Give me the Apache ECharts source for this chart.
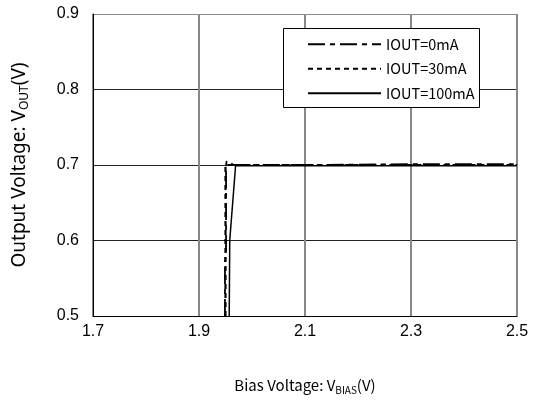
<!DOCTYPE html>
<html><head><meta charset="utf-8">
<script src="https://cdn.jsdelivr.net/npm/echarts@6/dist/echarts.min.js"></script>
<style>html,body{margin:0;padding:0;background:#fff}#c{width:533px;height:403px}</style>
</head><body><div id="c"></div>
<script>
const seriesNames = ['IOUT=0mA', 'IOUT=30mA', 'IOUT=100mA'];
const iout0 = [[1.949,0.5],[1.949,0.57],[1.951,0.587],[1.951,0.698],[1.952,0.705],[1.966,0.700],[2.1,0.700],[2.3,0.701],[2.5,0.701]];
const iout30 = [[1.950,0.5],[1.950,0.700],[1.96,0.700],[2.3,0.700],[2.5,0.700]];
const iout100 = [[1.957,0.5],[1.958,0.6],[1.969,0.699],[2.3,0.699],[2.5,0.699]];
const xTicks = [1.7, 1.9, 2.1, 2.3, 2.5];
const yTicks = [0.5, 0.6, 0.7, 0.8, 0.9];

const chart = echarts.init(document.getElementById('c'));
const mk = (name, data, type, width) => ({
  name, type: 'line', data, symbol: 'none', animation: false, z: 5,
  itemStyle: { color: '#000' },
  lineStyle: { color: '#000', width, type }
});
chart.setOption({
  backgroundColor: '#fff',
  animation: false,
  grid: { left: 93, right: 16, top: 14, bottom: 87 },
  graphic: [{ type: 'rect', left: 283, top: 28, z: 10,
    shape: { width: 196, height: 79 },
    style: { fill: '#fff', stroke: '#000', lineWidth: 1 } }],
  legend: {
    data: seriesNames, orient: 'vertical', left: 284, top: 28, z: 11,
    padding: [9, 10, 9, 23], itemWidth: 73, itemHeight: 14, itemGap: 10,
    itemStyle: { opacity: 0 },
    textStyle: { fontFamily: 'Noto Sans CJK JP', fontSize: 14.5, color: '#000', padding: [0,0,0,0] }
  },
  xAxis: {
    type: 'value', min: xTicks[0], max: xTicks[xTicks.length-1], interval: 0.2,
    axisLine: { lineStyle: { color: '#000', width: 1 } },
    axisTick: { show: false },
    axisLabel: { color: '#000', fontSize: 16, fontFamily: 'Liberation Sans', margin: 8,
      formatter: v => v.toFixed(1) },
    splitLine: { show: true, lineStyle: { color: '#888', width: 2 } },
    name: '{a|Bias Voltage: V}{b|BIAS}{a|(V)}', nameLocation: 'middle', nameGap: 57,
    nameTextStyle: { rich: {
      a: { fontFamily: 'Noto Sans CJK JP', fontSize: 15, color: '#000', lineHeight: 20, verticalAlign: 'bottom' },
      b: { fontFamily: 'Noto Sans CJK JP', fontSize: 10, color: '#000', lineHeight: 20, verticalAlign: 'bottom', padding: [0,0,-2,0] } } }
  },
  yAxis: {
    type: 'value', min: yTicks[0], max: yTicks[yTicks.length-1], interval: 0.1,
    axisLine: { show: true, lineStyle: { color: '#000', width: 1 } },
    axisTick: { show: false },
    axisLabel: { color: '#000', fontSize: 16, fontFamily: 'Liberation Sans', margin: 14,
      formatter: v => v.toFixed(1) },
    splitLine: { show: true, lineStyle: { color: ['#222','#222','#222','#222','#888'], width: 1 } },
    name: '{a|Output Voltage: V}{b|OUT}{a|(V)}', nameLocation: 'middle', nameGap: 64, nameRotate: 90,
    nameTextStyle: { rich: {
      a: { fontFamily: 'Noto Sans', fontSize: 19, color: '#000', lineHeight: 24, verticalAlign: 'bottom' },
      b: { fontFamily: 'Noto Sans', fontSize: 12, color: '#000', lineHeight: 24, verticalAlign: 'bottom', padding: [0,0,-2,0] } } }
  },
  series: [
    mk(seriesNames[0], iout0, [17, 5, 5, 5], 1.8),
    mk(seriesNames[1], iout30, [5, 4], 2.2),
    mk(seriesNames[2], iout100, 'solid', 1.5)
  ]
});
</script></body></html>
